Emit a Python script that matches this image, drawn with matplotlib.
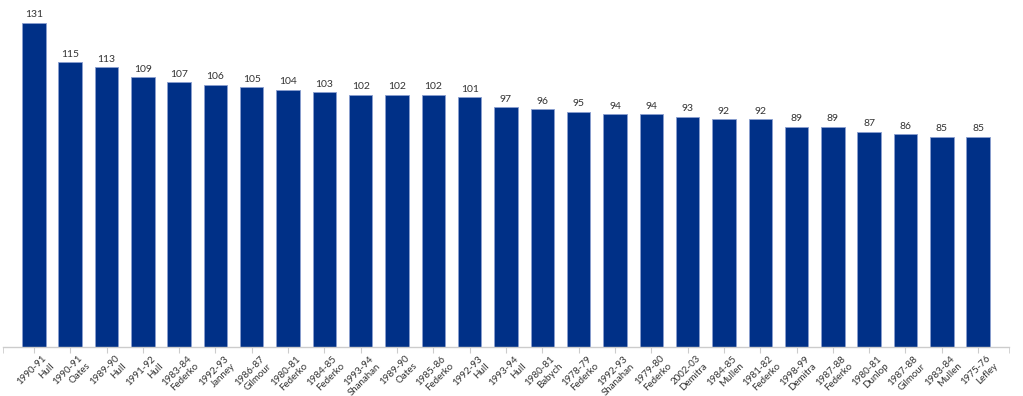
import matplotlib
matplotlib.use("Agg")
import matplotlib.pyplot as plt
from matplotlib.transforms import ScaledTranslation

seasons = ["1990-91", "1990-91", "1989-90", "1991-92", "1983-84", "1992-93", "1986-87",
           "1980-81", "1984-85", "1993-94", "1989-90", "1985-86", "1992-93", "1993-94",
           "1980-81", "1978-79", "1992-93", "1979-80", "2002-03", "1984-85", "1981-82",
           "1998-99", "1987-88", "1980-81", "1987-88", "1983-84", "1975-76"]
players = ["Hull", "Oates", "Hull", "Hull", "Federko", "Janney", "Gilmour",
           "Federko", "Federko", "Shanahan", "Oates", "Federko", "Hull", "Hull",
           "Babych", "Federko", "Shanahan", "Federko", "Demitra", "Mullen", "Federko",
           "Demitra", "Federko", "Dunlop", "Gilmour", "Mullen", "Lefley"]
points = [131, 115, 113, 109, 107, 106, 105, 104, 103, 102, 102, 102, 101, 97,
          96, 95, 94, 94, 93, 92, 92, 89, 89, 87, 86, 85, 85]

plt.rcParams['font.family'] = ['Lato', 'DejaVu Sans']

fig = plt.figure(figsize=(10.23, 3.96), dpi=100)
ax = fig.add_axes([3/1023, 1 - 347/396, (1009 - 3)/1023, (347 - 8)/396])

x = list(range(len(points)))
ax.bar(x, points, width=0.645, color="#003087", edgecolor="#8a9fd0", linewidth=0.6)
for xi, v in zip(x, points):
    ax.text(xi, v + 1.4, str(v), ha="center", va="bottom", fontsize=7.5, color="#333333")

xmin, xmax = -0.85, len(points) - 1 + 0.85
ax.set_xlim(xmin, xmax)
ax.set_ylim(0, 137)
ax.set_xticks(x)
ax.set_xticklabels([])
ax.set_xticks([xmin, xmax], minor=True)
ax.tick_params(axis="x", which="both", length=4, color="#cccccc")

label_tr = ax.get_xaxis_transform() + ScaledTranslation(8 / 100, -7 / 100, fig.dpi_scale_trans)
for xi, s, p in zip(x, seasons, players):
    ax.text(xi, 0, f"{s}\n{p}", transform=label_tr, rotation=45, ha="right", va="top",
            rotation_mode="anchor", multialignment="right", fontsize=7,
            color="#333333", linespacing=1.2, clip_on=False)

ax.set_yticks([])
for s in ["top", "right", "left"]:
    ax.spines[s].set_visible(False)
ax.spines["bottom"].set_color("#cccccc")
ax.spines["bottom"].set_linewidth(1)

fig.savefig("out.png", dpi=100)
